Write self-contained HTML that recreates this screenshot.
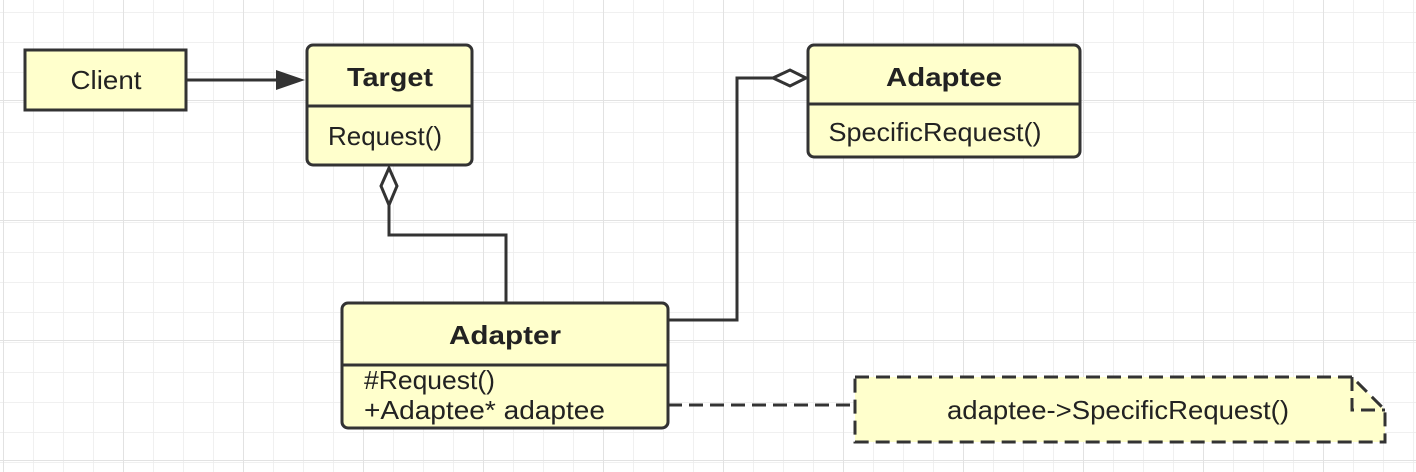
<!DOCTYPE html>
<html><head><style>
html,body{margin:0;padding:0;background:#fff;}
body{width:1416px;height:472px;overflow:hidden;position:relative;font-family:"Liberation Sans","DejaVu Sans",sans-serif;}
</style></head><body>
<svg width="1416" height="472" xmlns="http://www.w3.org/2000/svg" style="position:absolute;left:0;top:0">
<defs>
<pattern id="g" x="3" y="12" width="30" height="30" patternUnits="userSpaceOnUse">
<path d="M0 0H30M0 0V30" stroke="#ececec" stroke-width="1.5" fill="none"/>
</pattern>
<pattern id="G" x="3" y="-20" width="120" height="120" patternUnits="userSpaceOnUse">
<path d="M0 0H120M0 0V120" stroke="#e2e2e2" stroke-width="2" fill="none"/>
</pattern>
</defs>
<rect width="1416" height="472" fill="url(#g)"/>
<rect width="1416" height="472" fill="url(#G)"/>
<g stroke="#333" stroke-width="3" fill="#ffffcc">
<rect x="25" y="50" width="161" height="60"/>
<rect x="307" y="45" width="165" height="120" rx="6"/>
<line x1="307" y1="106" x2="472" y2="106"/>
<rect x="808" y="45" width="272" height="112" rx="6"/>
<line x1="808" y1="104" x2="1080" y2="104"/>
<rect x="342" y="303" width="326" height="125" rx="6"/>
<line x1="342" y1="365" x2="668" y2="365"/>
<path d="M855 377H1352L1385 410V442H855Z" stroke-dasharray="14,7"/>
<path d="M1352 377V410H1385" fill="none" stroke-dasharray="14,7"/>
</g>
<g stroke="#333" stroke-width="3" fill="none">
<line x1="186" y1="80" x2="278" y2="80"/>
<path d="M389 205V235H506V303"/>
<path d="M668 320H737V78H773"/>
<path d="M668 405H855" stroke-dasharray="14,7"/>
</g>
<polygon points="276,70 305,80 276,90" fill="#333"/>
<polygon points="389,168 397,186 389,205 381,186" fill="#fff" stroke="#333" stroke-width="3"/>
<polygon points="773,78 790,70 806,78 790,86" fill="#fff" stroke="#333" stroke-width="3"/>
<g fill="#222" font-size="26">
<text x="106" y="89" text-anchor="middle" textLength="71" lengthAdjust="spacingAndGlyphs">Client</text>
<text x="390" y="86" text-anchor="middle" font-weight="bold" textLength="86" lengthAdjust="spacingAndGlyphs">Target</text>
<text x="385" y="145" text-anchor="middle" textLength="114" lengthAdjust="spacingAndGlyphs">Request()</text>
<text x="944" y="86" text-anchor="middle" font-weight="bold" textLength="116" lengthAdjust="spacingAndGlyphs">Adaptee</text>
<text x="935" y="141" text-anchor="middle" textLength="213" lengthAdjust="spacingAndGlyphs">SpecificRequest()</text>
<text x="505" y="344" text-anchor="middle" font-weight="bold" textLength="112" lengthAdjust="spacingAndGlyphs">Adapter</text>
<text x="364" y="389" textLength="131" lengthAdjust="spacingAndGlyphs">#Request()</text>
<text x="364" y="419" textLength="241" lengthAdjust="spacingAndGlyphs">+Adaptee* adaptee</text>
<text x="1118" y="419" text-anchor="middle" textLength="342" lengthAdjust="spacingAndGlyphs">adaptee-&gt;SpecificRequest()</text>
</g>
</svg>
</body></html>
